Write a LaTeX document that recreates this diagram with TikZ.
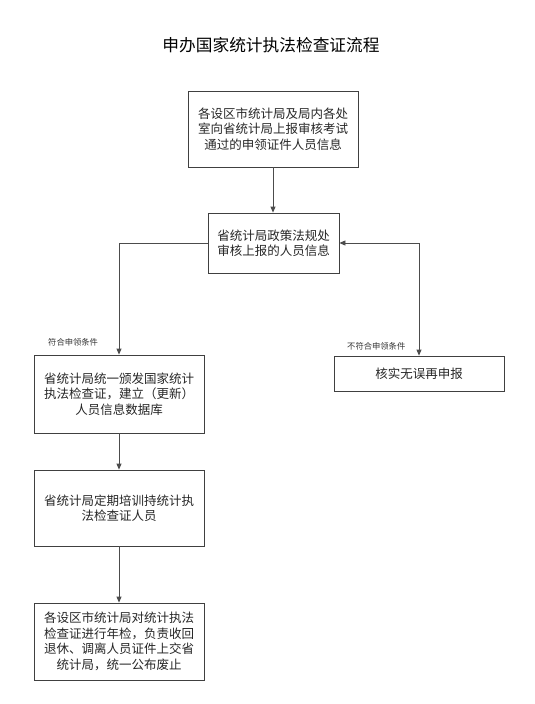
\documentclass[tikz,border=0pt]{standalone}
\usepackage{fontspec}
\setmainfont{Noto Sans CJK SC}
\usetikzlibrary{arrows.meta}
\begin{document}
\begin{tikzpicture}[x=1pt,y=-1pt,
  box/.style={draw=black!75,line width=0.8pt,rectangle,align=center,inner sep=2pt,
    font=\fontsize{12.5}{15.5}\selectfont,text=black!85},
  conn/.style={draw=black!70,line width=0.8pt},
  arr/.style={-{Triangle[length=6pt,width=5pt]}},
  lab/.style={font=\fontsize{8.3}{10}\selectfont,text=black!80,inner sep=0pt}]
\useasboundingbox (0,0) rectangle (535,704);
\node[font=\fontsize{16.7}{20}\selectfont,inner sep=0pt] (title) at (271,45) {申办国家统计执法检查证流程};
\node[box,minimum width=170pt,minimum height=76pt] (b1) at (273,129)
  {各设区市统计局及局内各处\\室向省统计局上报审核考试\\通过的申领证件人员信息};
\node[box,minimum width=131pt,minimum height=60pt] (b2) at (273.5,243)
  {省统计局政策法规处\\审核上报的人员信息};
\node[box,minimum width=170pt,minimum height=78pt] (b3) at (119,394)
  {省统计局统一颁发国家统计\\执法检查证，建立（更新）\\人员信息数据库};
\node[box,minimum width=170pt,minimum height=76pt] (b4) at (119,508)
  {省统计局定期培训持统计执\\法检查证人员};
\node[box,minimum width=170pt,minimum height=77pt] (b5) at (119,641.5)
  {各设区市统计局对统计执法\\检查证进行年检，负责收回\\退休、调离人员证件上交省\\统计局，统一公布废止};
\node[box,minimum width=170pt,minimum height=35pt] (b6) at (419,373.5)
  {核实无误再申报};
\node[lab,anchor=west] (l1) at (48,342) {符合申领条件};
\node[lab,anchor=west] (l2) at (347,346) {不符合申领条件};
\coordinate (cl) at (119,243);
\coordinate (cr) at (419,243);
\draw[conn,arr] (b1.south) -- (b1.south |- b2.north);
\draw[conn,arr] (b2.west) -- (cl) -- (cl |- b3.north);
\draw[conn,arr] (cr) -- (b2.east);
\draw[conn,arr] (cr) -- (cr |- b6.north);
\draw[conn,arr] (b3.south) -- (b4.north);
\draw[conn,arr] (b4.south) -- (b5.north);
\end{tikzpicture}
\end{document}
